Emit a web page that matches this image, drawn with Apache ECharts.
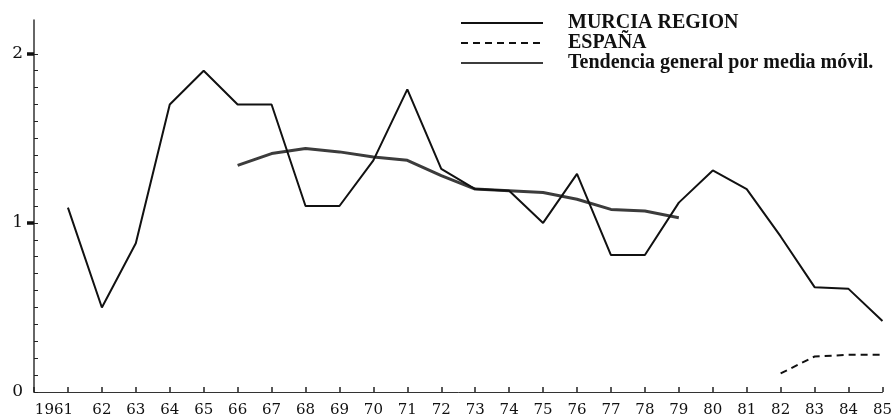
<!DOCTYPE html>
<html>
<head>
<meta charset="utf-8">
<script src="https://cdn.jsdelivr.net/npm/echarts@6/dist/echarts.min.js"></script>
<style>
  html, body { margin: 0; padding: 0; background: #fff; }
  #chart { width: 895px; height: 418px; }
</style>
</head>
<body>
<div id="chart"></div>
<script>
const years = [1961, 1962, 1963, 1964, 1965, 1966, 1967, 1968, 1969, 1970, 1971, 1972, 1973,
  1974, 1975, 1976, 1977, 1978, 1979, 1980, 1981, 1982, 1983, 1984, 1985]
const yearLabels = ['1961', '62', '63', '64', '65', '66', '67', '68', '69', '70', '71', '72', '73',
  '74', '75', '76', '77', '78', '79', '80', '81', '82', '83', '84', '85']
const murcia = [1.09, 0.5, 0.88, 1.7, 1.9, 1.7, 1.7, 1.1, 1.1, 1.37, 1.79, 1.32, 1.2,
  1.19, 1.0, 1.29, 0.81, 0.81, 1.12, 1.31, 1.2, 0.92, 0.62, 0.61, 0.42]
const mediaYears = [1966, 1967, 1968, 1969, 1970, 1971, 1972, 1973, 1974, 1975, 1976, 1977, 1978, 1979]
const media = [1.34, 1.41, 1.44, 1.42, 1.39, 1.37, 1.28, 1.2, 1.19, 1.18, 1.14, 1.08, 1.07, 1.03]
const espanaYears = [1982, 1983, 1984, 1985]
const espana = [0.11, 0.21, 0.22, 0.22]
const yLabels = [0, 1, 2]
const yMajor = [1, 2]

const pairs = (xs, vs) => xs.map((x, i) => [x, vs[i]])
const minorTicks = []
for (let i = 0; i <= 20; i++) minorTicks.push(i / 10)

const serif = 'DejaVu Serif'
const chart = echarts.init(document.getElementById('chart'))

var option = {
  animation: false,
  grid: { left: 34, right: 8, top: 20, bottom: 24 },
  legend: {
    orient: 'vertical',
    left: 455,
    top: 8,
    itemWidth: 82,
    itemHeight: 12,
    itemGap: 0,
    itemStyle: { opacity: 0 },
    data: ['MURCIA REGION', 'ESPAÑA', 'Tendencia general por media móvil.'],
    textStyle: {
      fontFamily: 'Liberation Serif', fontWeight: 'bold', fontSize: 20, color: '#111',
      lineHeight: 20, padding: [0, 0, 0, 20]
    }
  },
  xAxis: {
    type: 'value',
    min: 1960,
    max: 1985,
    interval: 1,
    splitLine: { show: false },
    axisLine: { lineStyle: { color: '#333', width: 1 } },
    axisTick: { inside: true, length: 5, lineStyle: { color: '#222', width: 1.5 } },
    axisLabel: {
      fontFamily: serif, fontSize: 15, color: '#111', margin: 11,
      formatter: v => {
        const i = years.indexOf(v)
        if (i < 0) return ''
        return i === 0 ? '{first|' + yearLabels[i] + '}' : yearLabels[i]
      },
      rich: {
        first: { fontFamily: serif, fontSize: 15, color: '#111', padding: [0, 28, 0, 0] }
      }
    }
  },
  yAxis: [{
    type: 'value',
    min: 0,
    max: 2.2,
    splitLine: { show: false },
    axisLine: { show: true, lineStyle: { color: '#333', width: 1.5 } },
    axisTick: { show: true, inside: true, length: 4, customValues: minorTicks, lineStyle: { color: '#222' } },
    axisLabel: { customValues: yLabels, fontFamily: serif, fontSize: 17, color: '#111', margin: 11 }
  }, {
    type: 'value',
    min: 0,
    max: 2.2,
    position: 'left',
    splitLine: { show: false },
    axisLine: { show: false },
    axisTick: { show: true, inside: false, length: 7, customValues: yMajor, lineStyle: { color: '#111', width: 3.5 } },
    axisLabel: { show: false }
  }],
  series: [{
    name: 'MURCIA REGION',
    type: 'line',
    symbol: 'none',
    data: pairs(years, murcia),
    lineStyle: { color: '#111', width: 2 },
    itemStyle: { color: '#111' },
    z: 3
  }, {
    name: 'ESPAÑA',
    type: 'line',
    symbol: 'none',
    data: pairs(espanaYears, espana),
    lineStyle: { color: '#111', width: 2, type: [7, 5] },
    itemStyle: { color: '#111' }
  }, {
    name: 'Tendencia general por media móvil.',
    type: 'line',
    symbol: 'none',
    data: pairs(mediaYears, media),
    lineStyle: { color: '#3c3c3c', width: 3 },
    itemStyle: { color: '#3c3c3c' },
    z: 2
  }]
}
chart.setOption(option)
</script>
</body>
</html>
